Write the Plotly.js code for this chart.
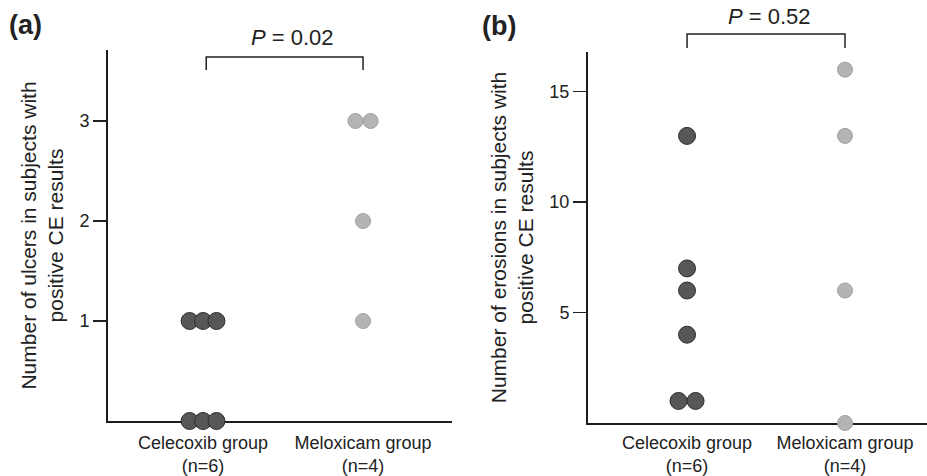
<!DOCTYPE html>
<html>
<head>
<meta charset="utf-8">
<script src="https://cdn.plot.ly/plotly-3.0.1.min.js"></script>
<style>html,body{margin:0;padding:0;background:#fff;}#chart{width:927px;height:476px;}</style>
</head>
<body>
<div id="chart"></div>
<script>
// ---- data ----
var groupNames = ["Celecoxib group<br>(n=6)", "Meloxicam group<br>(n=4)"];
var ulcersCelecoxib = [0, 0, 0, 1, 1, 1];
var ulcersMeloxicam = [1, 2, 3, 3];
var erosionsCelecoxib = [1, 1, 4, 6, 7, 13];
var erosionsMeloxicam = [0, 6, 13, 16];
var ulcerTicks = [1, 2, 3];
var erosionTicks = [5, 10, 15];
var pUlcers = "0.02";
var pErosions = "0.52";

// deterministic dot-plot spreading of tied values around the group centre
function spread(values, centre, step) {
  var counts = {}, seen = {};
  values.forEach(function (v) { counts[v] = (counts[v] || 0) + 1; });
  return values.map(function (v) {
    var k = seen[v] || 0; seen[v] = k + 1;
    return centre + (k - (counts[v] - 1) / 2) * step;
  });
}

var darkFill = '#575757', darkLine = '#2e2e2e';
var lightFill = '#b4b4b4', lightLine = '#a0a0a0';
var font = 'Arial, "Liberation Sans", sans-serif';

var traces = [
  {x: spread(ulcersCelecoxib, 1, 0.084), y: ulcersCelecoxib, xaxis: 'x', yaxis: 'y',
   mode: 'markers', type: 'scatter', cliponaxis: false,
   marker: {size: 17, color: darkFill, line: {color: darkLine, width: 1}}},
  {x: spread(ulcersMeloxicam, 2, 0.095), y: ulcersMeloxicam, xaxis: 'x', yaxis: 'y',
   mode: 'markers', type: 'scatter', cliponaxis: false,
   marker: {size: 15, color: lightFill, line: {color: lightLine, width: 1}}},
  {x: spread(erosionsCelecoxib, 1, 0.108), y: erosionsCelecoxib, xaxis: 'x2', yaxis: 'y2',
   mode: 'markers', type: 'scatter', cliponaxis: false,
   marker: {size: 17, color: darkFill, line: {color: darkLine, width: 1}}},
  {x: spread(erosionsMeloxicam, 2, 0.108), y: erosionsMeloxicam, xaxis: 'x2', yaxis: 'y2',
   mode: 'markers', type: 'scatter', cliponaxis: false,
   marker: {size: 15, color: lightFill, line: {color: lightLine, width: 1}}}
];

function xAxis(domain, range, tl) {
  return {domain: domain, range: range, showline: true, linecolor: '#1e1e1e', linewidth: 2,
    showgrid: false, zeroline: false, ticks: 'outside', ticklen: tl, tickcolor: 'rgba(0,0,0,0)',
    tickvals: [1, 2], ticktext: groupNames, layer: 'below traces',
    tickfont: {family: font, size: 18, color: '#222'}, fixedrange: true};
}
function yAxis(domain, range, ticks, title, anchor) {
  return {domain: domain, range: range, anchor: anchor, showline: true, linecolor: '#1e1e1e', linewidth: 2,
    showgrid: false, zeroline: false, ticks: 'outside', ticklen: 13, tickwidth: 1.5, tickcolor: '#222',
    tickvals: ticks, layer: 'below traces',
    tickfont: {family: font, size: 18, color: '#222'},
    title: {text: title, font: {family: font, size: 21, color: '#222'}, standoff: 10},
    fixedrange: true};
}

function label(text, x, y, size, bold) {
  return {text: text, xref: 'paper', yref: 'paper', x: x, y: y, xanchor: 'center', yanchor: 'middle',
    showarrow: false, font: {family: font, size: size, color: '#222', weight: bold ? 'bold' : 'normal'}};
}

var layout = {
  width: 927, height: 476, margin: {l: 0, r: 0, t: 0, b: 0},
  paper_bgcolor: '#fff', plot_bgcolor: '#fff', showlegend: false,
  xaxis: xAxis([0.1165, 0.4876], [0.406, 2.556], 4),
  yaxis: yAxis([0.1155, 0.895], [0, 3.71], ulcerTicks,
    'Number of ulcers in subjects with<br>positive CE results', 'x'),
  xaxis2: Object.assign(xAxis([0.6343, 1], [0.373, 2.519], 2), {anchor: 'y2'}),
  yaxis2: yAxis([0.1113, 0.8908], [0, 16.8], erosionTicks,
    'Number of erosions in subjects with<br>positive CE results', 'x2'),
  shapes: [
    {type: 'path', xref: 'x', yref: 'paper', path: 'M 1.02 0.853 L 1.02 0.880 L 2 0.880 L 2 0.853',
     line: {color: '#222', width: 1.5}},
    {type: 'path', xref: 'x2', yref: 'paper', path: 'M 1 0.899 L 1 0.9286 L 2 0.9286 L 2 0.899',
     line: {color: '#222', width: 1.5}}
  ],
  annotations: [
    label('(a)', 0.027, 0.947, 27, true),
    label('(b)', 0.538, 0.945, 27, true),
    label('<i>P</i> = ' + pUlcers, 0.315, 0.922, 22, false),
    label('<i>P</i> = ' + pErosions, 0.8296, 0.966, 22, false)
  ]
};

Plotly.newPlot('chart', traces, layout, {staticPlot: true, displayModeBar: false});
</script>
</body>
</html>
